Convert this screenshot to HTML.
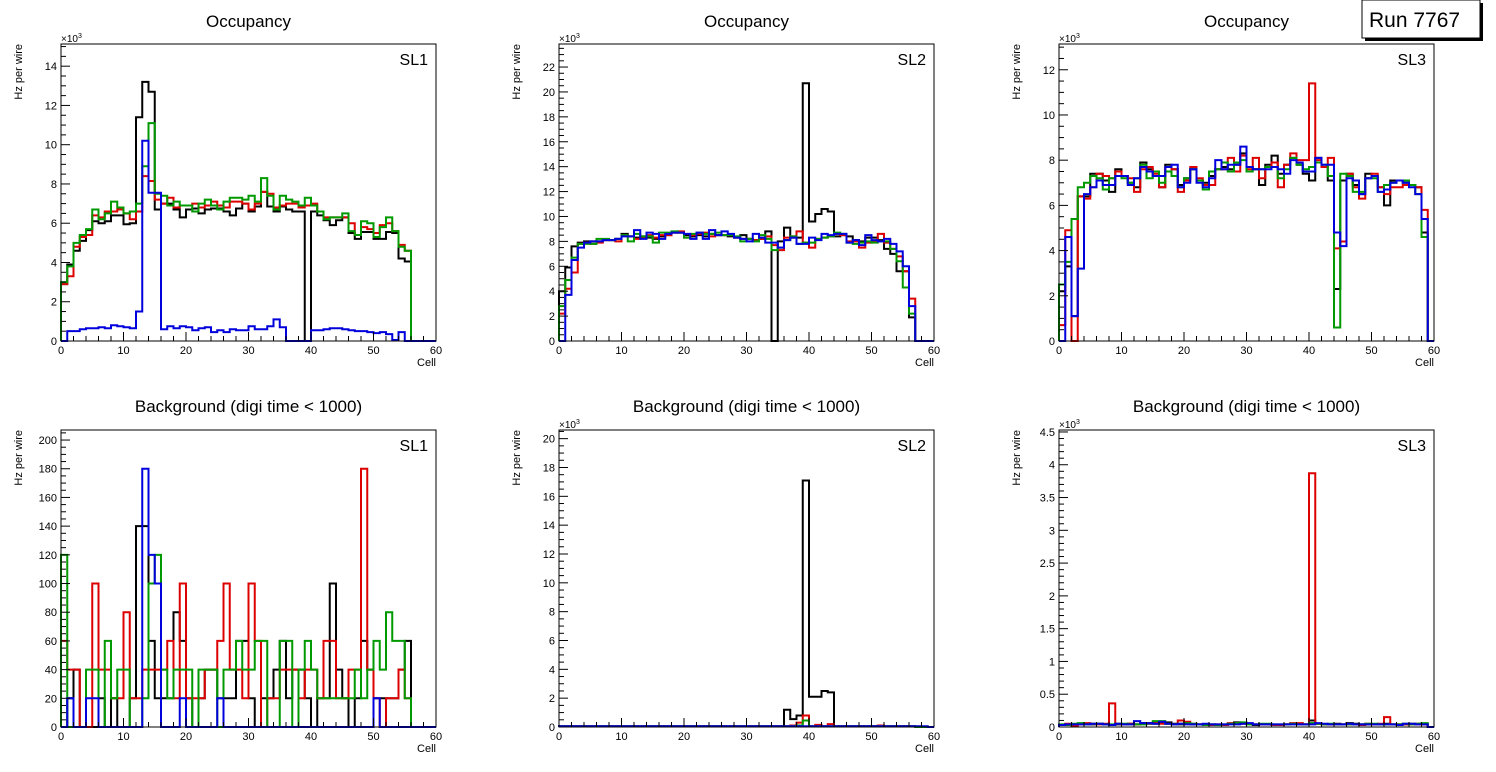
<!DOCTYPE html>
<html><head><meta charset="utf-8"><style>
html,body{margin:0;padding:0;background:#fff;width:1496px;height:772px;overflow:hidden}
svg{display:block;font-family:"Liberation Sans",Arial,sans-serif}
</style></head><body>
<svg id="c" width="1496" height="772" xmlns="http://www.w3.org/2000/svg"></svg>
<script>
const cells = 60;
const occSL1Black=[2.9,3.9,4.6,5.1,5.65,6.1,6.0,6.1,6.4,6.4,5.95,6.0,11.4,13.2,12.7,6.7,7.0,7.0,6.7,6.3,6.7,6.75,6.5,6.7,6.75,6.75,6.6,6.4,6.75,7.0,6.6,6.85,7.6,6.85,6.6,6.85,6.7,6.6,6.6,0,6.6,6.4,6.15,5.9,6.15,6.3,5.5,5.2,5.55,5.55,5.2,5.2,5.55,5.5,4.2,4.05,0,0,0,0];
const occSL1Red=[2.9,3.3,4.8,5.3,5.4,6.4,6.3,6.6,6.6,6.7,6.5,6.2,6.6,8.4,8.15,7.2,7.0,7.3,6.8,6.9,6.9,7.0,6.8,6.9,7.1,6.9,6.8,7.1,7.1,7.0,6.7,7.0,7.6,7.5,6.8,6.9,7.0,7.0,6.8,6.9,7.0,6.6,6.3,6.3,6.3,6.3,6.0,5.4,5.8,5.7,5.5,5.9,6.0,5.6,4.9,4.6,0,0,0,0];
const occSL1Green=[3.0,3.8,5.0,5.4,5.7,6.7,6.2,6.5,7.1,6.8,6.5,6.6,7.0,8.9,11.1,7.5,7.4,6.9,7.1,6.9,6.9,6.6,7.0,7.2,6.9,6.7,7.1,7.3,7.3,7.2,7.4,7.1,8.3,7.4,6.7,7.4,7.2,7.1,6.9,7.3,6.9,6.6,6.2,6.3,6.3,6.5,5.6,5.4,6.1,6.0,5.3,5.8,6.3,5.6,4.8,4.6,0,0,0,0];
const occSL1Blue=[0,0.5,0.5,0.6,0.65,0.65,0.7,0.65,0.8,0.75,0.7,0.65,1.5,10.2,7.55,7.55,0.6,0.75,0.65,0.75,0.7,0.55,0.65,0.7,0.45,0.55,0.45,0.6,0.55,0.55,0.75,0.6,0.6,0.75,1.1,0.7,0,0,0,0,0.55,0.55,0.6,0.65,0.65,0.6,0.55,0.5,0.5,0.45,0.4,0.45,0.35,0.05,0.45,0,0,0,0,0];

const occSL2Black=[4.0,5.9,7.6,7.9,8.0,8.0,8.0,8.1,8.1,8.2,8.6,8.4,8.3,8.4,8.3,8.2,8.4,8.5,8.7,8.7,8.5,8.4,8.5,8.4,8.6,8.5,8.5,8.4,8.3,8.5,8.2,8.1,8.2,8.8,0,8.0,9.1,8.3,8.3,20.7,9.6,10.2,10.6,10.4,8.4,8.5,8.4,8.1,8.0,8.3,8.3,8.1,7.4,7.0,5.6,5.6,1.9,0,0,0];
const occSL2Red=[2.2,4.2,5.5,7.8,7.9,7.8,7.9,8.1,8.1,8.0,8.5,8.4,8.2,8.3,8.5,8.3,8.5,8.5,8.7,8.8,8.3,8.5,8.6,8.7,8.4,8.5,8.5,8.5,8.3,8.2,8.2,8.1,8.2,8.4,7.7,7.3,8.3,8.4,8.8,7.9,7.5,8.2,8.3,8.4,8.6,8.5,8.0,8.0,7.5,7.9,8.0,8.6,7.9,7.4,6.8,5.6,3.4,0,0,0];
const occSL2Green=[2.8,4.9,6.7,7.8,7.8,7.8,8.2,8.2,8.1,8.2,8.5,8.0,8.6,8.4,8.4,7.9,8.7,8.7,8.8,8.7,8.3,8.6,8.7,8.6,8.6,8.7,8.5,8.5,8.4,8.0,8.2,8.0,8.5,8.2,7.3,7.5,8.1,8.4,7.8,7.9,7.9,8.2,8.3,8.4,8.7,8.6,7.9,7.8,7.9,8.0,7.9,8.0,8.0,7.4,6.4,4.3,2.2,0,0,0];
const occSL2Blue=[0,3.7,6.5,7.5,7.9,8.0,8.0,8.1,8.1,8.2,8.4,8.4,8.9,8.2,8.7,8.6,8.2,8.6,8.7,8.7,8.6,8.2,8.7,8.2,8.9,8.5,8.8,8.6,8.3,8.2,8.0,8.6,8.3,7.9,7.9,7.5,8.1,8.3,7.8,7.8,8.3,8.1,8.6,8.5,8.6,8.6,7.9,8.1,7.7,8.5,8.1,8.0,8.2,7.8,7.2,6.0,2.8,0,0,0];

const occSL3Black=[2.2,3.3,1.1,6.4,6.4,7.4,7.4,7.1,6.6,7.6,7.3,7.0,6.8,7.9,7.6,7.3,6.8,7.8,7.6,6.9,7.2,7.6,7.1,7.0,7.3,7.6,7.7,7.6,7.8,8.3,7.7,7.6,6.9,7.8,8.2,7.4,7.8,8.1,7.8,7.4,7.1,8.1,7.7,7.1,2.3,7.1,7.4,6.9,6.5,7.4,7.3,6.8,6.0,7.1,7.1,7.0,6.9,6.8,4.8,0];
const occSL3Red=[0.7,4.9,0,6.4,6.3,6.8,7.4,7.3,7.2,7.5,7.3,7.2,6.6,7.6,7.7,7.4,6.8,7.7,7.6,6.6,7.1,7.7,7.2,6.9,6.9,7.6,7.6,8.1,7.5,8.2,7.6,8.1,7.2,7.7,7.9,6.8,7.8,8.3,8.0,8.0,11.4,8.0,7.7,8.1,4.1,4.4,7.4,6.8,6.3,7.2,7.4,6.8,6.5,6.8,6.8,6.9,6.9,6.8,5.8,0];
const occSL3Green=[2.5,3.5,5.4,6.8,7.0,7.3,7.2,6.7,7.2,7.3,7.2,7.0,7.2,7.8,7.2,7.5,7.0,7.5,7.3,6.8,7.2,7.6,7.1,6.7,7.5,7.6,7.9,7.5,7.9,8.0,7.5,7.6,7.6,7.7,7.7,7.2,7.6,8.1,7.8,7.6,7.7,7.9,7.8,7.3,0.6,7.4,7.3,6.6,6.6,7.2,7.2,6.6,6.9,7.0,7.1,7.1,6.9,6.5,4.6,0];
const occSL3Blue=[0,4.6,1.1,3.2,6.5,6.8,7.1,6.9,6.9,7.3,7.3,6.9,7.2,7.7,7.5,7.3,7.3,7.7,7.8,6.8,7.0,7.6,7.0,6.8,7.2,8.0,7.6,7.8,7.8,8.6,7.7,7.6,7.6,7.6,7.7,7.6,7.4,8.0,7.9,7.5,7.5,8.1,7.8,7.8,4.8,4.2,7.2,7.1,6.5,7.2,7.3,6.6,6.7,7.0,7.1,7.0,6.8,6.5,5.4,0];

const bkgSL1Black=[0,20,40,0,0,0,20,0,20,0,0,20,140,140,60,20,20,20,80,60,20,0,20,40,40,20,20,20,60,60,20,0,20,20,40,60,20,40,40,20,0,20,20,100,40,20,0,20,60,40,20,20,20,20,40,60,0,0,0,0];
const bkgSL1Red=[60,40,40,0,0,100,40,40,20,20,80,20,20,40,40,40,40,60,20,100,20,20,20,40,40,60,100,40,40,20,100,60,0,20,20,40,40,40,20,40,40,20,60,60,20,20,40,40,180,40,20,0,20,20,40,20,0,0,0,0];
const bkgSL1Green=[120,0,0,0,40,40,0,60,20,40,40,0,0,20,100,120,40,20,40,40,40,0,40,40,40,0,40,40,60,40,40,60,60,0,0,60,60,0,40,60,40,20,20,20,20,20,20,40,20,40,60,40,80,60,60,20,0,0,0,0];
const bkgSL1Blue=[0,20,0,0,20,20,0,0,0,0,0,0,0,180,120,100,0,0,0,20,0,0,0,0,0,20,0,0,0,0,0,0,0,0,0,0,0,0,0,0,0,0,0,0,0,0,0,0,0,0,20,0,0,0,0,0,0,0,0,0];

const bkgSL2Black=[0.05,0.05,0.05,0.05,0.05,0.05,0.05,0.05,0.05,0.05,0.05,0.05,0.05,0.05,0.05,0.05,0.05,0.05,0.05,0.05,0.05,0.05,0.05,0.05,0.05,0.05,0.05,0.05,0.05,0.05,0.05,0.05,0.05,0.05,0.05,0.05,1.2,0.55,0.8,17.1,2.1,2.1,2.5,2.4,0.05,0.05,0.05,0.05,0.05,0.05,0.05,0.05,0.05,0.05,0.05,0.05,0.05,0,0,0];
const bkgSL2Red=[0.05,0.05,0.05,0.05,0.05,0.05,0.05,0.05,0.05,0.05,0.05,0.05,0.05,0.05,0.05,0.05,0.05,0.05,0.05,0.05,0.05,0.05,0.05,0.05,0.05,0.05,0.05,0.05,0.05,0.05,0.05,0.05,0.05,0.05,0.05,0.05,0.05,0.1,0.3,0.8,0.05,0.15,0.05,0.2,0.05,0.05,0.05,0.05,0.05,0.05,0.05,0.1,0.05,0.05,0.05,0.05,0.05,0,0,0];
const bkgSL2Green=[0.05,0.05,0.05,0.05,0.05,0.05,0.05,0.05,0.05,0.05,0.05,0.05,0.05,0.05,0.05,0.05,0.05,0.05,0.05,0.05,0.05,0.05,0.05,0.05,0.05,0.05,0.05,0.05,0.05,0.05,0.05,0.05,0.05,0.05,0.05,0.05,0.05,0.05,0.1,0.45,0.05,0.05,0.05,0.05,0.05,0.05,0.05,0.05,0.05,0.05,0.05,0.05,0.05,0.05,0.05,0.05,0.05,0,0,0];
const bkgSL2Blue=[0.05,0.05,0.05,0.05,0.05,0.05,0.05,0.05,0.05,0.05,0.05,0.05,0.05,0.05,0.05,0.05,0.05,0.05,0.05,0.05,0.05,0.05,0.05,0.05,0.05,0.05,0.05,0.05,0.05,0.05,0.05,0.05,0.05,0.05,0.05,0.05,0.05,0.05,0.05,0.05,0.05,0.05,0.05,0.05,0.05,0.05,0.05,0.05,0.05,0.05,0.05,0.05,0.05,0.05,0.05,0.05,0.05,0.05,0.05,0];

const bkgSL3Black=[0.03,0.04,0.03,0.05,0.05,0.04,0.05,0.04,0.03,0.04,0.04,0.05,0.04,0.06,0.05,0.05,0.06,0.07,0.05,0.04,0.05,0.04,0.04,0.04,0.04,0.03,0.03,0.05,0.07,0.06,0.05,0.03,0.04,0.04,0.03,0.03,0.04,0.05,0.05,0.04,0.1,0.05,0.04,0.04,0.05,0.04,0.06,0.05,0.04,0.04,0.04,0.04,0.05,0.04,0.04,0.04,0.05,0.05,0.04,0];
const bkgSL3Red=[0.03,0.05,0.02,0.04,0.06,0.05,0.04,0.05,0.36,0.05,0.04,0.05,0.04,0.05,0.06,0.07,0.05,0.05,0.04,0.1,0.08,0.05,0.04,0.04,0.03,0.04,0.03,0.06,0.06,0.05,0.05,0.04,0.04,0.04,0.03,0.03,0.04,0.06,0.06,0.04,3.87,0.05,0.04,0.04,0.04,0.04,0.04,0.04,0.03,0.05,0.04,0.05,0.15,0.04,0.04,0.04,0.04,0.04,0.04,0];
const bkgSL3Green=[0.04,0.03,0.05,0.06,0.04,0.05,0.05,0.04,0.04,0.05,0.05,0.04,0.04,0.04,0.06,0.09,0.09,0.05,0.04,0.05,0.06,0.05,0.04,0.03,0.04,0.03,0.04,0.05,0.06,0.07,0.04,0.04,0.05,0.05,0.04,0.04,0.04,0.05,0.04,0.04,0.06,0.05,0.04,0.05,0.04,0.04,0.04,0.04,0.04,0.05,0.05,0.04,0.04,0.04,0.04,0.05,0.04,0.05,0.06,0];
const bkgSL3Blue=[0.03,0.04,0.04,0.04,0.04,0.05,0.05,0.04,0.03,0.05,0.04,0.04,0.09,0.06,0.06,0.05,0.08,0.05,0.04,0.05,0.04,0.04,0.04,0.05,0.04,0.04,0.04,0.04,0.04,0.05,0.06,0.04,0.04,0.04,0.04,0.04,0.04,0.04,0.04,0.04,0.04,0.06,0.05,0.04,0.04,0.04,0.05,0.04,0.04,0.04,0.04,0.04,0.04,0.04,0.03,0.05,0.05,0.04,0.04,0];

const xTickLabels=["0","10","20","30","40","50","60"];
const panelTitles=["Occupancy","Occupancy","Occupancy","Background (digi time < 1000)","Background (digi time < 1000)","Background (digi time < 1000)"];
const slLabels=["SL1","SL2","SL3","SL1","SL2","SL3"];
const yMaxes=[15.13,23.85,13.14,207,20.6,4.53];
const yMajors=[2,2,2,20,2,0.5];
const yMinors=[0.5,0.5,0.5,5,0.5,0.1];
const yExpo=[true,true,true,false,true,true];
const seriesColors=["#000000","#dd0000","#009900","#0000dd"];
const panelData=[
 [occSL1Black,occSL1Red,occSL1Green,occSL1Blue],
 [occSL2Black,occSL2Red,occSL2Green,occSL2Blue],
 [occSL3Black,occSL3Red,occSL3Green,occSL3Blue],
 [bkgSL1Black,bkgSL1Red,bkgSL1Green,bkgSL1Blue],
 [bkgSL2Black,bkgSL2Red,bkgSL2Green,bkgSL2Blue],
 [bkgSL3Black,bkgSL3Red,bkgSL3Green,bkgSL3Blue]
];
const colNames=["black","red","green","blue"];

const NS="http://www.w3.org/2000/svg";
const svg=document.getElementById('c');
function mk(tag,attrs,parent,text){const e=document.createElementNS(NS,tag);for(const k in attrs)e.setAttribute(k,attrs[k]);if(text!==undefined)e.textContent=text;(parent||svg).appendChild(e);return e;}
function fmt(v){return (Math.round(v*100)/100).toString();}

const lefts=[61,559,1059], W=375;
const tops=[44,430], H=[297,297];

for(let p=0;p<6;p++){
  const col=p%3,row=Math.floor(p/3);
  const L=lefts[col],T=tops[row],Hh=H[row],B=T+Hh,R=L+W;
  const xs=v=>L+v*W/cells;
  const ys=v=>B-v*Hh/yMaxes[p];
  const g=mk('g',{});
  
  
  const t=mk('text',{x:(L+R)/2,y:row?412:27,'text-anchor':'middle','font-size':17,fill:'#000'},g,panelTitles[p]);
  
  
  // series
  panelData[p].forEach((arr,si)=>{
    let d='M'+xs(0)+','+ys(0);
    for(let i=0;i<cells;i++){d+=' L'+xs(i)+','+ys(arr[i])+' L'+xs(i+1)+','+ys(arr[i]);}
    d+=' L'+xs(cells)+','+ys(0);
    const pa=mk('path',{d:d,fill:'none',stroke:seriesColors[si],'stroke-width':2,'stroke-linejoin':'miter'},g);
    
    
  });
  // frame
  const fr=mk('rect',{x:L,y:T,width:W,height:Hh,fill:'none',stroke:'#000','stroke-width':1},g);
  
  
  // x ticks
  for(let v=0;v<=cells;v+=2){
    const major=v%10===0;
    mk('line',{x1:xs(v),x2:xs(v),y1:B,y2:B-(major?9:5),stroke:'#000','stroke-width':1},g);
  }
  xTickLabels.forEach(s=>{
    const tl=mk('text',{x:xs(+s),y:B+13,'text-anchor':'middle','font-size':11},g,s);
    
    
  });
  const xt=mk('text',{x:R,y:B+25,'text-anchor':'end','font-size':11},g,'Cell');
  
  
  // y ticks
  const mn=yMinors[p],mj=yMajors[p];
  for(let k=0;k*mn<=yMaxes[p]+1e-9;k++){
    const v=k*mn;const major=Math.abs(v/mj-Math.round(v/mj))<1e-6;
    mk('line',{x1:L,x2:L+(major?9:5),y1:ys(v),y2:ys(v),stroke:'#000','stroke-width':1},g);
    if(major){
      const yl=mk('text',{x:L-4,y:ys(v)+4,'text-anchor':'end','font-size':11},g,fmt(v));
      
      
    }
  }
  if(yExpo[p]){
    const ex=mk('text',{x:L,y:T-2,'font-size':10},g);
    
    
    ex.innerHTML='×10<tspan dy="-4" font-size="7">3</tspan>';
  }
  const yt=mk('text',{transform:'translate('+(L-39)+','+T+') rotate(-90)','text-anchor':'end','font-size':11},g,'Hz per wire');
  
  
  const sl=mk('text',{x:R-8,y:T+21,'text-anchor':'end','font-size':16},g,slLabels[p]);
  
  
}
// run box
const rb=mk('g',{});


mk('rect',{x:1365,y:3,width:118,height:38,fill:'#000'},rb);
mk('rect',{x:1362,y:0,width:118,height:38,fill:'#fff',stroke:'#000','stroke-width':1},rb);
mk('text',{x:1369,y:27,'font-size':21},rb,'Run 7767');
</script>
</body></html>
